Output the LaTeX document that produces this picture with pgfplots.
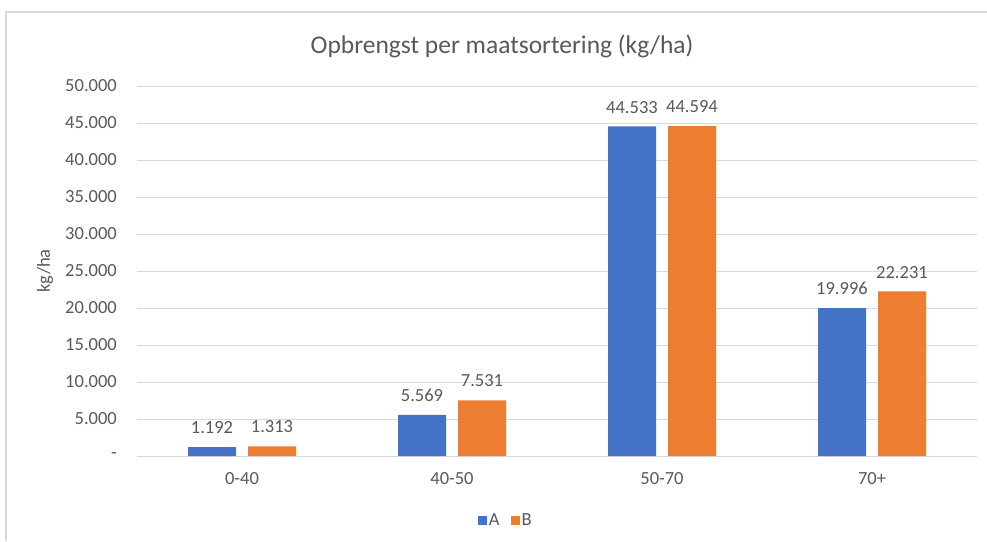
\documentclass[border=0pt]{standalone}
\usepackage{pgfplots}
\pgfplotsset{compat=1.18}
\usepackage{fontspec}
\setmainfont{Carlito}
\definecolor{txt}{HTML}{595959}
\definecolor{grd}{HTML}{D9D9D9}
\definecolor{cA}{HTML}{4472C4}
\definecolor{cB}{HTML}{ED7D31}
\begin{document}
\begin{tikzpicture}[x=1pt,y=1pt]
\fill[white] (0,0) rectangle (987,541);
\useasboundingbox (0,0) rectangle (987,541);
\draw[grd, line width=1.5pt] (6,0) -- (6,529) -- (987,529);
\node[txt, font=\fontsize{25.5}{30}\selectfont] at (502,495) {Opbrengst per maatsortering (kg/ha)};
\node[txt, font=\fontsize{18.5}{22}\selectfont, rotate=90] at (45,270) {kg/ha};
\begin{axis}[
  at={(137pt,85pt)}, anchor=south west,
  scale only axis, width=840pt, height=370pt,
  xmin=-0.5, xmax=3.5, ymin=0, ymax=50000,
  axis line style={draw=none},
  major tick length=0pt,
  scaled y ticks=false,
  ymajorgrids, grid style={grd, line width=1pt},
  xtick={0,1,2,3}, xticklabels={0-40,40-50,50-70,70+},
  ytick={0,5000,10000,15000,20000,25000,30000,35000,40000,45000,50000},
  yticklabels={-\hspace{9pt},5.000,10.000,15.000,20.000,25.000,30.000,35.000,40.000,45.000,50.000},
  xticklabel style={anchor=center, inner sep=0pt, yshift=-23pt, txt, font=\fontsize{18.5}{22}\selectfont},
  yticklabel style={anchor=east, inner sep=0pt, xshift=-20pt, txt, font=\fontsize{18.5}{22}\selectfont},
  ybar, bar width=48pt,
  /pgf/number format/.cd, fixed, precision=0, 1000 sep={.}, assume math mode=true, /pgfplots/.cd,
  nodes near coords,
  nodes near coords style={anchor=south, inner sep=0pt, yshift=13pt, txt, font=\fontsize{18.5}{22}\selectfont},
  legend style={at={(0.439,-0.173)}, anchor=center, draw=none, fill=none, legend columns=2,
    font=\fontsize{18.5}{22}\selectfont, text=txt, inner sep=0pt,
    /tikz/every even column/.append style={column sep=10pt},
    nodes={inner sep=1.5pt}},
  legend image code/.code={\fill[#1] (0pt,-4.5pt) rectangle (9pt,4.5pt);},
]
\addplot[fill=cA, draw=none, bar shift=-30pt] coordinates {(0,1192) (1,5569) (2,44533) (3,19996)};
\addplot[fill=cB, draw=none, bar shift=30pt] coordinates {(0,1313) (1,7531) (2,44594) (3,22231)};
\legend{A,B}
\end{axis}
\end{tikzpicture}
\end{document}
